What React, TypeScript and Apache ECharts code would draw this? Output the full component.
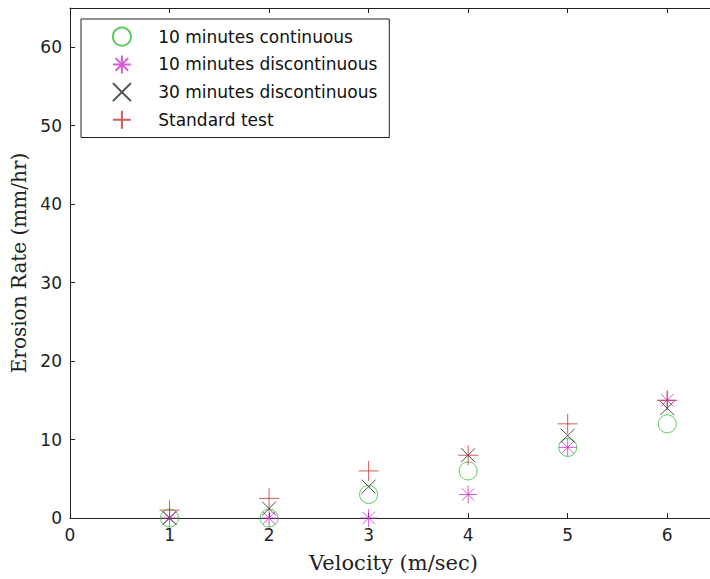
import React, { useEffect, useRef } from "react";
import * as echarts from "echarts";

const velocity = [1, 2, 3, 4, 5, 6];
const cont10 = [0, 0, 3, 6, 9, 12];
const discont10 = [0, 0, 0, 3, 9, 15];
const discont30 = [0, 1.2, 4, 8, 10.5, 14];
const standard = [1, 2.5, 6, 8, 12, 15];
const seriesNames = [
  "10 minutes continuous",
  "10 minutes discontinuous",
  "30 minutes discontinuous",
  "Standard test",
];

const PLUS = "path://M0,5L10,5M5,0L5,10";
const CROSS = "path://M0,0L10,10M0,10L10,0";
const STAR = "path://M0,5L10,5M5,0L5,10M1.5,1.5L8.5,8.5M1.5,8.5L8.5,1.5";

const pairs = (ys: number[]) => velocity.map((x, i) => [x, ys[i]]);

export default function App() {
  const ref = useRef<HTMLDivElement>(null);
  useEffect(() => {
    if (!ref.current) return;
    const chart = echarts.init(ref.current, null, { renderer: "svg" });
    const axisColor = "#222";
    const sans = "DejaVu Sans";
    const serif = "DejaVu Serif";
    const mk = (name: string, data: number[], symbol: string, size: number, color: string) => ({
      name,
      type: "scatter",
      data: pairs(data),
      symbol,
      symbolSize: size,
      itemStyle: { color: "transparent", borderColor: color, borderWidth: 1 },
      emphasis: { disabled: true },
    });
    chart.setOption({
      animation: false,
      backgroundColor: "#fff",
      grid: {
        left: 70,
        top: 8,
        right: -7,
        bottom: 61,
        containLabel: false,
        outerBoundsMode: "none",
      },
      legend: {
        orient: "vertical",
        left: 81,
        top: 19,
        padding: [7.7, 12, 7.7, 30.9],
        itemWidth: 62.6,
        itemHeight: 18,
        itemGap: 7.7,
        backgroundColor: "#fff",
        borderColor: "#222",
        borderWidth: 1,
        borderRadius: 0,
        data: seriesNames,
        textStyle: { fontFamily: sans, fontSize: 17, color: "#111", lineHeight: 20 },
      },
      xAxis: [
        {
          type: "value",
          min: 0,
          max: 6.5,
          interval: 1,
          name: "Velocity (m/sec)",
          nameLocation: "middle",
          nameGap: 34,
          nameTextStyle: { fontFamily: serif, fontSize: 21, color: "#222" },
          axisLine: { show: true, onZero: false, lineStyle: { color: axisColor, width: 1 } },
          axisTick: { show: true, inside: true, length: 5, lineStyle: { color: axisColor } },
          axisLabel: {
            fontFamily: sans,
            fontSize: 17,
            color: "#222",
            margin: 8,
            formatter: (v: number) => (Number.isInteger(v) ? String(v) : ""),
          },
          splitLine: { show: false },
        },
        {
          type: "value",
          position: "top",
          min: 0,
          max: 6.5,
          interval: 1,
          axisLine: { show: true, onZero: false, lineStyle: { color: axisColor, width: 1 } },
          axisTick: { show: true, inside: true, length: 5, lineStyle: { color: axisColor } },
          axisLabel: { show: false },
          splitLine: { show: false },
        },
      ],
      yAxis: [
        {
          type: "value",
          min: 0,
          max: 65,
          interval: 10,
          name: "Erosion Rate (mm/hr)",
          nameLocation: "middle",
          nameGap: 32,
          nameTextStyle: { fontFamily: serif, fontSize: 20, color: "#222" },
          axisLine: { show: true, onZero: false, lineStyle: { color: axisColor, width: 1 } },
          axisTick: { show: true, inside: true, length: 5, lineStyle: { color: axisColor } },
          axisLabel: {
            fontFamily: sans,
            fontSize: 17,
            color: "#222",
            margin: 8,
            formatter: (v: number) => (v % 10 === 0 ? String(v) : ""),
          },
          splitLine: { show: false },
        },
      ],
      series: [
        mk(seriesNames[0], cont10, "circle", 18, "#33bb33"),
        mk(seriesNames[1], discont10, STAR, 18, "#cc33cc"),
        mk(seriesNames[2], discont30, CROSS, 14, "#222222"),
        mk(seriesNames[3], standard, PLUS, 20, "#c83232"),
      ],
    });
    return () => chart.dispose();
  }, []);
  return (
    <div
      ref={ref}
      style={{ position: "fixed", left: 0, top: 0, width: 710, height: 579, background: "#fff" }}
    />
  );
}
